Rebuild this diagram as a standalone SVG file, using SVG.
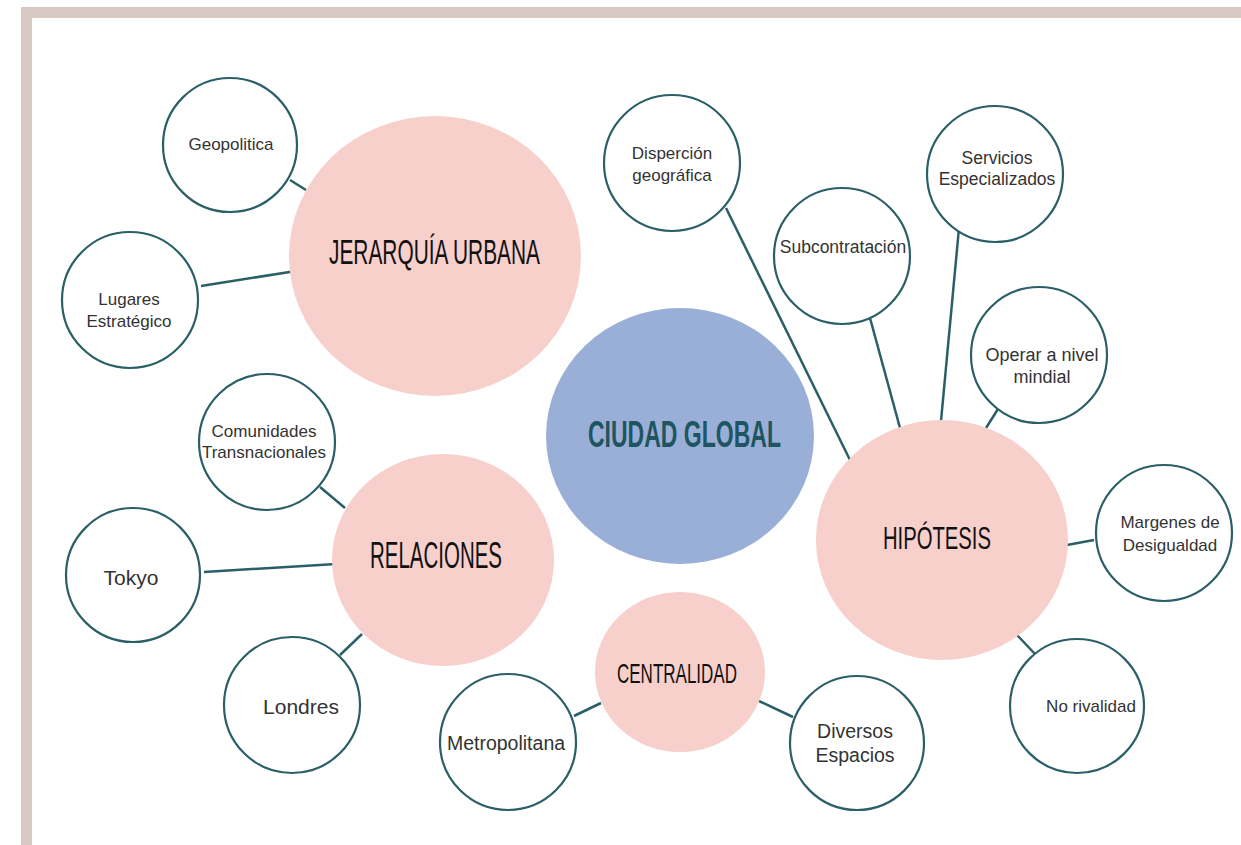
<svg xmlns="http://www.w3.org/2000/svg" width="1241" height="845" viewBox="0 0 1241 845">
<style>
.sm{fill:#fff;stroke:#2b5f68;stroke-width:2.2}
.pk{fill:#f7cfcb}
.bl{fill:#99afd7}
.lb{font-family:"Liberation Sans",Arial,sans-serif;font-size:17px;fill:#333;text-anchor:middle}
.lg{font-size:19.5px}
.big{font-family:"Liberation Sans",Arial,sans-serif;fill:#111;text-anchor:middle}
#connectors line{stroke:#2b5f68;stroke-width:2.5;stroke-linecap:butt}
</style>
<rect x="0" y="0" width="1241" height="845" fill="#fff"/>
<g id="frame" fill="#d9c9c5">
<rect x="21" y="7" width="1220" height="11"/>
<rect x="21" y="7" width="11" height="838"/>
</g>
<g id="connectors">
<line x1="290" y1="180" x2="306" y2="190"/>
<line x1="201" y1="286" x2="296" y2="271"/>
<line x1="320" y1="487" x2="345" y2="508"/>
<line x1="204" y1="572" x2="336" y2="564"/>
<line x1="340" y1="655" x2="362" y2="634"/>
<line x1="574" y1="716" x2="601" y2="703"/>
<line x1="759" y1="701" x2="793" y2="717"/>
<line x1="726" y1="208" x2="850" y2="460"/>
<line x1="870" y1="318" x2="900" y2="428"/>
<line x1="959" y1="228" x2="941" y2="421"/>
<line x1="998" y1="409" x2="986" y2="428"/>
<line x1="1067" y1="545" x2="1094" y2="540"/>
<line x1="1017" y1="635" x2="1036" y2="655"/>
</g>
<g id="jerarquia">
<ellipse class="pk" cx="435" cy="256" rx="146" ry="140"/>
<text class="big" x="434.5" y="264" font-size="35" textLength="211" lengthAdjust="spacingAndGlyphs">JERARQUÍA URBANA</text>
</g>
<g id="ciudad">
<ellipse class="bl" cx="680" cy="436" rx="134" ry="128"/>
<text class="big" x="684.5" y="447" font-size="36" font-weight="bold" style="fill:#1f5560" textLength="193" lengthAdjust="spacingAndGlyphs">CIUDAD GLOBAL</text>
</g>
<g id="relaciones">
<ellipse class="pk" cx="443" cy="560" rx="111" ry="106"/>
<text class="big" x="436" y="568" font-size="36" textLength="132" lengthAdjust="spacingAndGlyphs">RELACIONES</text>
</g>
<g id="centralidad">
<ellipse class="pk" cx="680" cy="672" rx="85" ry="80"/>
<text class="big" x="677" y="683" font-size="28" textLength="120" lengthAdjust="spacingAndGlyphs">CENTRALIDAD</text>
</g>
<g id="hipotesis">
<ellipse class="pk" cx="942" cy="540" rx="126" ry="120"/>
<text class="big" x="937" y="549" font-size="32" textLength="108" lengthAdjust="spacingAndGlyphs">HIPÓTESIS</text>
</g>
<g id="geopolitica">
<circle class="sm" cx="230" cy="145" r="67"/>
<text class="lb" x="231" y="150">Geopolitica</text>
</g>
<g id="lugares">
<circle class="sm" cx="130" cy="300" r="68"/>
<text class="lb" x="129" y="305">Lugares</text>
<text class="lb" x="129" y="327">Estratégico</text>
</g>
<g id="comunidades">
<circle class="sm" cx="267" cy="442" r="68"/>
<text class="lb" x="264" y="437">Comunidades</text>
<text class="lb" x="264" y="458">Transnacionales</text>
</g>
<g id="tokyo">
<circle class="sm" cx="133" cy="575" r="67"/>
<text class="lb" x="131" y="585" style="font-size:21px">Tokyo</text>
</g>
<g id="londres">
<circle class="sm" cx="292" cy="705" r="68"/>
<text class="lb" x="301" y="714" style="font-size:21px">Londres</text>
</g>
<g id="metropolitana">
<circle class="sm" cx="508" cy="742" r="68"/>
<text class="lb lg" x="506" y="750">Metropolitana</text>
</g>
<g id="diversos">
<circle class="sm" cx="857" cy="743" r="67"/>
<text class="lb lg" x="855" y="738">Diversos</text>
<text class="lb lg" x="855" y="762">Espacios</text>
</g>
<g id="norivalidad">
<circle class="sm" cx="1077" cy="706" r="67"/>
<text class="lb" x="1091" y="712">No rivalidad</text>
</g>
<g id="margenes">
<circle class="sm" cx="1164" cy="533" r="68"/>
<text class="lb" x="1170" y="528">Margenes de</text>
<text class="lb" x="1170" y="551">Desigualdad</text>
</g>
<g id="operar">
<circle class="sm" cx="1039" cy="355" r="68"/>
<text class="lb" x="1042" y="361" style="font-size:18px">Operar a nivel</text>
<text class="lb" x="1042" y="383" style="font-size:18px">mindial</text>
</g>
<g id="servicios">
<circle class="sm" cx="995" cy="174" r="68"/>
<text class="lb" x="997" y="164" style="font-size:17.5px">Servicios</text>
<text class="lb" x="997" y="185" style="font-size:17.5px">Especializados</text>
</g>
<g id="subcontratacion">
<circle class="sm" cx="842" cy="256" r="68"/>
<text class="lb" x="843" y="253" style="font-size:17.5px">Subcontratación</text>
</g>
<g id="dispercion">
<circle class="sm" cx="672" cy="163" r="68"/>
<text class="lb" x="672" y="159">Disperción</text>
<text class="lb" x="672" y="181">geográfica</text>
</g>
</svg>
